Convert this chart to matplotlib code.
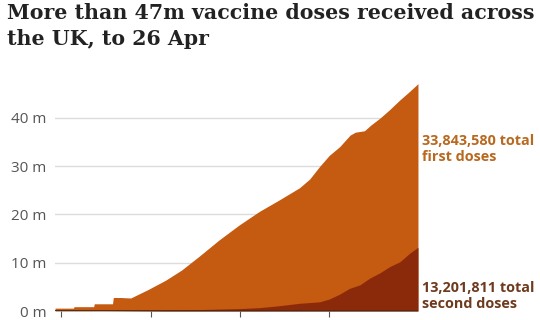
import matplotlib
matplotlib.use('Agg')
import matplotlib.pyplot as plt
import matplotlib.transforms as mtransforms

# ── datos (días desde el 8 dic, millones de dosis) ──────────────────────────
total_days = [0, 7, 7.3, 14.8, 15, 22, 22.3, 25, 29, 32, 35.8, 42.4, 48.5,
              55.1, 62.8, 70.5, 78.2, 85.9, 93.6, 97.5, 101.3, 105, 109,
              113, 115, 118.5, 121, 124.4, 128, 132.1, 135.5, 139]
total_m = [0.6, 0.6, 0.9, 0.9, 1.5, 1.5, 2.8, 2.8, 2.7, 3.5, 4.5, 6.4, 8.5,
           11.3, 14.7, 17.8, 20.6, 23.0, 25.5, 27.3, 29.9, 32.2, 34.0,
           36.4, 37.0, 37.3, 38.5, 39.9, 41.6, 43.7, 45.3, 47.04]

second_days = [0, 20, 40, 55, 70.5, 78.2, 85.9, 93.6, 101.3, 105.1, 109,
               112.8, 116.7, 120.5, 124.4, 128.2, 132.1, 135.9, 139]
second_m = [0, 0, 0.1, 0.3, 0.5, 0.7, 1.1, 1.6, 1.9, 2.5, 3.5,
            4.7, 5.4, 6.8, 7.9, 9.2, 10.2, 12.0, 13.2]

y_ticks = [0, 10, 20, 30, 40]
y_labels = ['0 m', '10 m', '20 m', '30 m', '40 m']
x_ticks = [2.3, 36.6, 70.9, 105.1]

title = 'More than 47m vaccine doses received across\nthe UK, to 26 Apr'
lbl_first = '33,843,580 total\nfirst doses'
lbl_second = '13,201,811 total\nsecond doses'

# ── paleta ──────────────────────────────────────────────────────────────────
C_FIRST = '#c55a11'
C_SECOND = '#8a2a0b'
C_TXT_FIRST = '#b8691f'
C_TXT_SECOND = '#6e3a1e'
C_GRID = '#dcdcdc'

fig = plt.figure(figsize=(5.4, 3.2), dpi=100, facecolor='white')
ax = fig.add_axes([0.102, 0.028, 0.672, 0.725])

ax.fill_between(total_days, total_m, 0, color=C_FIRST, linewidth=0, zorder=2)
ax.fill_between(second_days, second_m, 0, color=C_SECOND, linewidth=0, zorder=2.5)
ax.axhline(0, color='#333333', linewidth=1.3, zorder=3)

ax.set_xlim(0, 139)
ax.set_ylim(0, 48)
ax.set_yticks(y_ticks)
ax.set_yticklabels(y_labels, family='Open Sans', fontsize=11, color='#555555')
ax.set_xticks(x_ticks)
ax.set_xticklabels([])
ax.tick_params(axis='y', length=0, pad=6)
ax.tick_params(axis='x', length=4, width=0.8, color='#555555')
ax.grid(axis='y', color=C_GRID, linewidth=1, zorder=0)
ax.set_axisbelow(True)
for s in ax.spines.values():
    s.set_visible(False)

trans = mtransforms.blended_transform_factory(ax.transAxes, ax.transData)
ax.text(1.012, 36.6, lbl_first, transform=trans, ha='left', va='top',
        family='Open Sans', fontweight='bold', fontsize=10.4,
        color=C_TXT_FIRST, linespacing=1.15, clip_on=False)
ax.text(1.012, 6.2, lbl_second, transform=trans, ha='left', va='top',
        family='Open Sans', fontweight='bold', fontsize=10.4,
        color=C_TXT_SECOND, linespacing=1.15, clip_on=False)

fig.text(0.013, 0.99, title, ha='left', va='top', family='DejaVu Serif',
         fontweight='bold', fontsize=14.8, color='#222222', linespacing=1.35)

fig.savefig('out.png', dpi=100, facecolor='white')
